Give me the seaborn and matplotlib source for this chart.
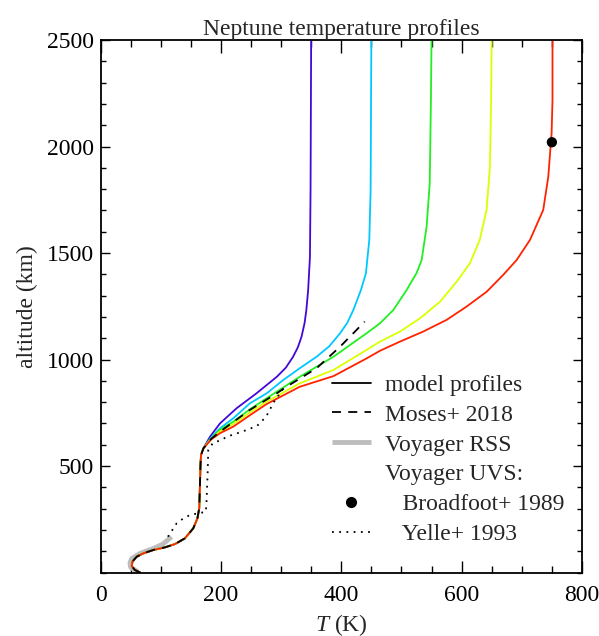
import numpy as np
import pandas as pd
import seaborn as sns
import matplotlib.pyplot as plt
from matplotlib.lines import Line2D
from matplotlib.ticker import MultipleLocator

# shared lower atmosphere profile (T in K, altitude in km)
lower_T = [66, 57, 52, 53, 60, 71, 88, 107, 124, 140, 154, 161, 164, 165, 166, 167, 171]
lower_z = [0, 12, 30, 51, 74, 90, 106, 118, 134, 160, 207, 254, 301, 387, 497, 552, 583]

# upper parts of the model profiles, one per exospheric temperature
purple_T = [182, 198.5, 226, 259, 293, 308, 320, 328, 334, 339, 342, 345, 348, 349, 350]
purple_z = [638, 700, 771, 841, 919, 962, 1013, 1058, 1107, 1170, 1232, 1326, 1483, 1796, 2500]
cyan_T = [184, 198.5, 220.6, 248, 276, 303.7, 331, 359, 380, 398, 410, 420, 432.7, 441, 446.6, 448.8, 450]
cyan_z = [635, 677, 724, 794, 841, 904, 959, 1013, 1062, 1123, 1172, 1232, 1326, 1405, 1561, 1796, 2500]
green_T = [184, 198.5, 220.6, 248, 276, 331, 387, 442, 464.3, 486.4, 508.6, 525, 533.6, 541.8, 547, 549, 550]
green_z = [630, 670, 708, 766, 818, 919, 1013, 1123, 1170, 1232, 1326, 1405, 1467, 1623, 1827, 2218, 2500]
yellow_T = [184, 198.5, 220.6, 248, 276, 331, 387, 442, 464.3, 497.5, 530.7, 564, 591.7, 613.8, 630, 641.5, 647, 649, 650]
yellow_z = [628, 662, 697, 751, 802, 888, 951, 1045, 1084, 1131, 1193, 1271, 1365, 1452, 1561, 1702, 1905, 2218, 2500]
red_T = [184, 198.5, 220.6, 248, 276, 331, 387, 442, 464.3, 497.5, 536, 575, 608, 641.5, 669, 691.4, 713.5, 735.6, 744, 749.5, 751, 751]
red_z = [625, 654, 685, 738, 791, 872, 922, 1005, 1041, 1084, 1131, 1186, 1248, 1318, 1397, 1467, 1561, 1702, 1858, 2062, 2218, 2500]
model_colors = ["#4208d8", "#00c8ff", "#22ee22", "#dcff00", "#ff2200"]

# Moses+ 2018 above the shared part
moses_T = [184, 198.5, 248, 292.7, 309, 359, 398, 439]
moses_z = [628, 661, 763, 841, 872, 959, 1060, 1178]

# Voyager RSS
rss_T = [62, 50, 49, 52, 66, 88, 104, 118]
rss_z = [3, 25, 45, 66, 90, 113, 134, 168]

# Voyager UVS
broadfoot_T = [750]
broadfoot_z = [2020]
yelle_T = [112, 126.5, 137.6, 148.7, 157, 175, 176, 178, 179, 187, 201, 210, 235, 260, 275, 288, 298, 305]
yelle_z = [168, 231, 254, 270, 275, 285, 325, 466, 575, 609, 622, 638, 661, 688, 731, 800, 840, 870]


def main():
    sns.set_theme(style="ticks")
    plt.rcParams["font.family"] = ["Liberation Serif", "DejaVu Serif"]
    plt.rcParams["mathtext.fontset"] = "custom"
    plt.rcParams["mathtext.rm"] = "Liberation Serif"
    plt.rcParams["mathtext.it"] = "Liberation Serif:italic"
    plt.rcParams["axes.edgecolor"] = "black"
    plt.rcParams["xtick.color"] = "black"
    plt.rcParams["ytick.color"] = "black"

    fs = 17
    fig = plt.figure(figsize=(5.99, 6.36), dpi=100)
    ax = fig.add_axes([0.1678, 0.0998, 0.8038, 0.8373])

    rss = pd.DataFrame({"T": rss_T, "z": rss_z})
    sns.lineplot(data=rss, x="T", y="z", sort=False, estimator=None, ax=ax,
                 color="#bdbdbd", lw=3.5, solid_capstyle="butt", zorder=1)

    uppers = [(purple_T, purple_z), (cyan_T, cyan_z), (green_T, green_z),
              (yellow_T, yellow_z), (red_T, red_z)]
    for (tt, zz), c in zip(uppers, model_colors):
        prof = pd.DataFrame({"T": lower_T + tt, "z": lower_z + zz})
        sns.lineplot(data=prof, x="T", y="z", sort=False, estimator=None, ax=ax,
                     color=c, lw=1.3, zorder=2)

    moses = pd.DataFrame({"T": lower_T + moses_T, "z": lower_z + moses_z})
    sns.lineplot(data=moses, x="T", y="z", sort=False, estimator=None, ax=ax,
                 color="black", lw=1.3, zorder=3)
    ax.lines[-1].set_linestyle((0, (5, 4)))

    yelle = pd.DataFrame({"T": yelle_T, "z": yelle_z})
    sns.lineplot(data=yelle, x="T", y="z", sort=False, estimator=None, ax=ax,
                 color="black", lw=1.3, zorder=3)
    ax.lines[-1].set_linestyle((0, (1, 3)))

    sns.scatterplot(x=broadfoot_T, y=broadfoot_z, ax=ax, color="black", s=55,
                    edgecolor="none", zorder=4)

    ax.set_xlim(0, 800)
    ax.set_ylim(0, 2500)
    ax.set_xticks([0, 200, 400, 600, 800])
    ax.set_yticks([500, 1000, 1500, 2000, 2500])
    ax.xaxis.set_minor_locator(MultipleLocator(50))
    ax.yaxis.set_minor_locator(MultipleLocator(100))
    ax.tick_params(which="both", direction="in", top=True, right=True, width=1,
                   labelsize=fs)
    ax.tick_params(axis="x", which="major", length=9, pad=9)
    ax.tick_params(axis="x", which="minor", length=4.7)
    ax.tick_params(axis="y", which="major", length=6.5, pad=5)
    ax.tick_params(axis="y", which="minor", length=3.6)
    for s in ax.spines.values():
        s.set_linewidth(1.3)

    ax.set_xlabel("$T$ (K)", fontsize=fs, labelpad=4)
    ax.set_ylabel("altitude (km)", fontsize=fs, labelpad=6)
    ax.set_title("Neptune temperature profiles", fontsize=fs, pad=3)

    handles = [
        Line2D([], [], color="black", lw=1.3),
        Line2D([], [], color="black", lw=1.3, ls=(0, (5, 4))),
        Line2D([], [], color="#bdbdbd", lw=3.5, solid_capstyle="butt"),
        Line2D([], [], color="none"),
        Line2D([], [], color="black", ls="none", marker="o", markersize=7),
        Line2D([], [], color="black", lw=1.3, ls=(0, (1, 3))),
    ]
    labels = ["model profiles", "Moses+ 2018", "Voyager RSS", "Voyager UVS:",
              "   Broadfoot+ 1989", "   Yelle+ 1993"]
    ax.legend(handles, labels, loc="upper left", bbox_to_anchor=(0.48, 0.372),
              frameon=False, borderpad=0, borderaxespad=0, handlelength=1.67,
              handletextpad=0.6, labelspacing=0.35, fontsize=fs)

    fig.savefig("out.png", dpi=100)


if __name__ == "__main__":
    main()
